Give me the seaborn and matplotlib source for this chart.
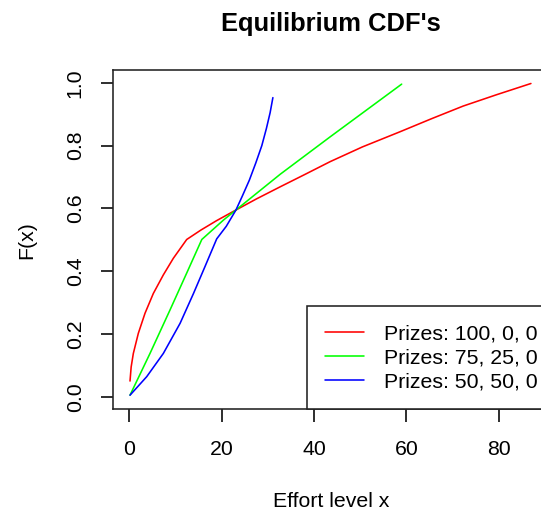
import matplotlib
matplotlib.use("Agg")
import matplotlib.pyplot as plt
import numpy as np
import pandas as pd
import seaborn as sns

# ---- data ----
red_x = [0.15, 0.4, 0.87, 1.95, 3.4, 5.2, 7.36, 9.53, 12.43, 15.5, 18.9, 23.1, 27.5, 32.7,
         38.0, 43.5, 50.5, 58.6, 65.5, 72.3, 79.5, 87.0]
red_y = [0.050, 0.095, 0.138, 0.202, 0.266, 0.329, 0.388, 0.441, 0.501, 0.531, 0.561, 0.595,
         0.630, 0.669, 0.708, 0.749, 0.796, 0.844, 0.886, 0.926, 0.962, 0.998]

green_x = [0.15, 4.48, 8.8, 12.4, 15.7, 20.4, 23.1, 32.7, 43.5, 59.0]
green_y = [0.005, 0.138, 0.276, 0.393, 0.501, 0.563, 0.595, 0.709, 0.828, 0.996]

blue_x = [0.15, 3.77, 7.37, 11.0, 13.9, 16.4, 18.93, 21.0, 23.1, 24.5, 26.0, 27.4, 28.7,
          29.7, 30.5, 31.1]
blue_y = [0.005, 0.064, 0.138, 0.234, 0.329, 0.415, 0.503, 0.543, 0.595, 0.640, 0.690, 0.745,
          0.800, 0.855, 0.905, 0.953]

labels = ["Prizes: 100, 0, 0", "Prizes: 75, 25, 0", "Prizes: 50, 50, 0"]
colors = ["#FF0000", "#00FF00", "#0000FF"]

x_ticks = [0, 20, 40, 60, 80]
y_ticks = [0.0, 0.2, 0.4, 0.6, 0.8, 1.0]
y_tick_labels = ["0.0", "0.2", "0.4", "0.6", "0.8", "1.0"]

title = "Equilibrium CDF's"
x_label = "Effort level x"
y_label = "F(x)"

# ---- style ----
sns.set_style("ticks")
plt.rcParams['font.family'] = ['Liberation Sans', 'DejaVu Sans']
for key in ["text.color", "axes.labelcolor", "xtick.color", "ytick.color", "axes.edgecolor"]:
    plt.rcParams[key] = "black"
FS = 15.3

W, H = 541, 512
fig = plt.figure(figsize=(W / 100, H / 100), dpi=100)
left, right, top, bottom = 112.7, 549.4, 70.0, 409.3
ax = fig.add_axes([left / W, (H - bottom) / H, (right - left) / W, (bottom - top) / H])

series = [(red_x, red_y), (green_x, green_y), (blue_x, blue_y)]
for (xs, ys), lab, col in zip(series, labels, colors):
    df = pd.DataFrame({"x": xs, "y": ys})
    sns.lineplot(data=df, x="x", y="y", color=col, linewidth=1.15, label=lab,
                 ax=ax, sort=False, estimator=None)

ax.set_xlim(-3.6, 91.0)
ax.set_ylim(-0.040, 1.041)
ax.set_xticks(x_ticks)
ax.set_xticklabels([str(t) for t in x_ticks])
ax.set_yticks(y_ticks)
ax.set_yticklabels(y_tick_labels, rotation=90, va="center")
ax.tick_params(axis="both", direction="out", length=9, width=1.15, colors="black",
               labelsize=FS)
ax.tick_params(axis="x", pad=13.4)
ax.tick_params(axis="y", pad=11.2)

for sp in ax.spines.values():
    sp.set_visible(True)
    sp.set_color("#222222")
    sp.set_linewidth(1.15)

ax.set_title(title, fontsize=18.4, fontweight="bold", pad=28.2)
ax.set_xlabel(x_label, fontsize=FS, labelpad=23.5)
ax.set_ylabel(y_label, fontsize=FS, labelpad=21)
ax.grid(False)

leg = ax.legend(loc="lower right", bbox_to_anchor=(1.0 + 6 / 436.7, 0.0), borderaxespad=0,
                frameon=True, fancybox=False, framealpha=1, edgecolor="#222222",
                fontsize=FS, handlelength=1.85, handletextpad=0.94,
                borderpad=0.83, labelspacing=0.25)
leg.get_frame().set_linewidth(1.15)

fig.savefig("out.png", dpi=100)
